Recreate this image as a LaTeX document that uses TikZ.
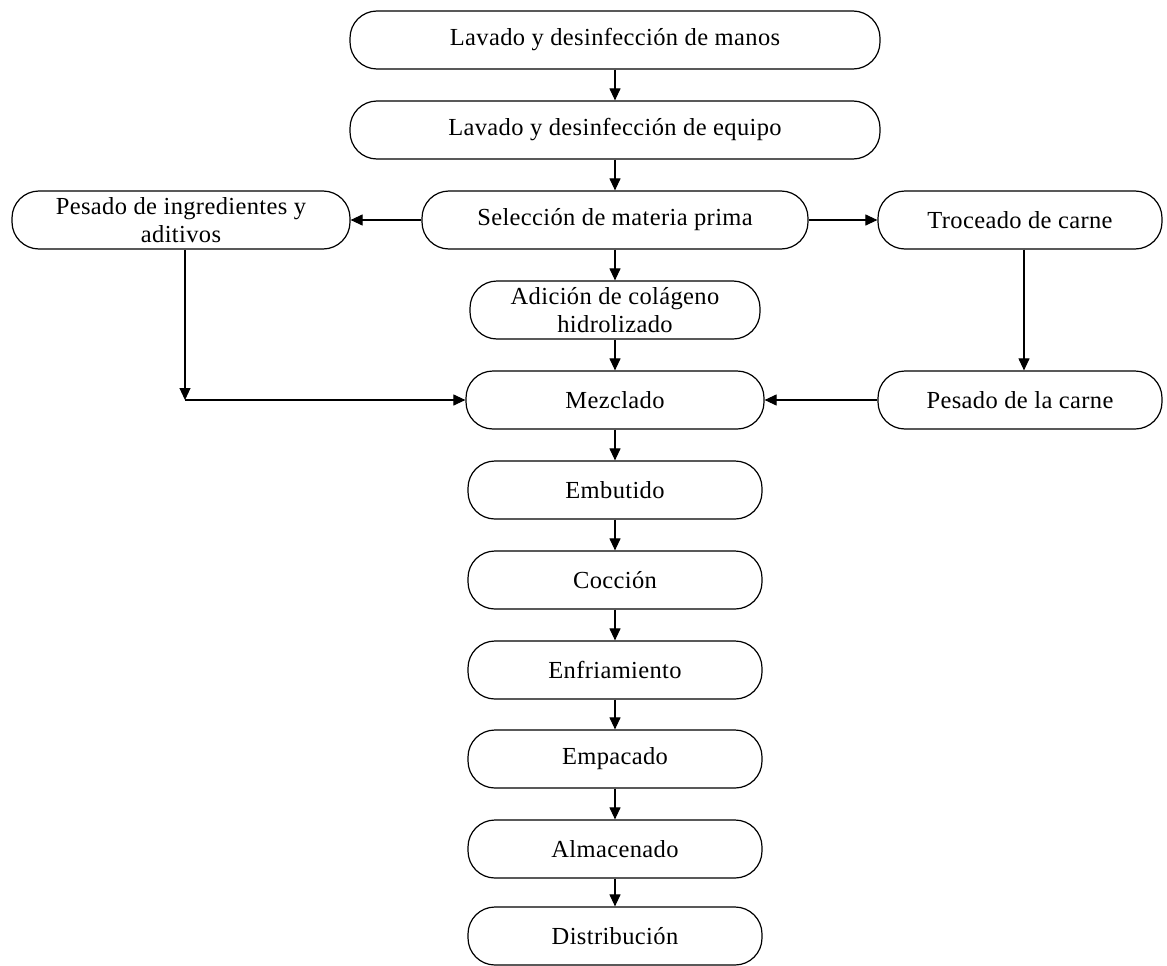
\documentclass[tikz,border=0pt]{standalone}
\usepackage{fontspec}
\setmainfont{Liberation Serif}[LetterSpace=1.5]
\usepackage{tikz}
\usetikzlibrary{shapes,arrows.meta,positioning,calc}

\begin{document}
\begin{tikzpicture}[x=1pt, y=-1pt,
  paso/.style={draw, line width=1.2pt, rounded corners=27pt, minimum height=58pt,
    inner sep=1pt, align=center, font=\fontsize{24.5}{28}\selectfont},
  flecha/.style={-{Triangle[length=12pt,width=11pt]}, line width=1.1pt}]
  \useasboundingbox (0,0) rectangle (1167,966);

  % columna central
  \node[paso, minimum width=530pt] (manos) at (615,40) {Lavado y desinfección de manos};
  \node[paso, minimum width=530pt] (equipo) at (615,130) {Lavado y desinfección de equipo};
  \node[paso, minimum width=386pt] (seleccion) at (615,220) {Selección de materia prima};
  \node[paso, minimum width=290pt] (colageno) at (615,310) {Adición de colágeno\\hidrolizado};
  \node[paso, minimum width=298pt] (mezclado) at (615,400) {Mezclado};
  \node[paso, minimum width=294pt] (embutido) at (615,490) {Embutido};
  \node[paso, minimum width=294pt] (coccion) at (615,580) {Cocción};
  \node[paso, minimum width=294pt] (enfriamiento) at (615,670) {Enfriamiento};
  \node[paso, minimum width=294pt] (empacado) at (615,759) {Empacado};
  \node[paso, minimum width=294pt] (almacenado) at (615,849) {Almacenado};
  \node[paso, minimum width=294pt] (distribucion) at (615,936) {Distribución};

  % ramas laterales
  \node[paso, minimum width=338pt] (ingredientes) at (181,220) {Pesado de ingredientes y\\aditivos};
  \node[paso, minimum width=284pt] (troceado) at (1020,220) {Troceado de carne};
  \node[paso, minimum width=284pt] (pesocarne) at (1020,400) {Pesado de la carne};

  \draw[flecha] (manos) -- (equipo);
  \draw[flecha] (equipo) -- (seleccion);
  \draw[flecha] (seleccion) -- (colageno);
  \draw[flecha] (colageno) -- (mezclado);
  \draw[flecha] (mezclado) -- (embutido);
  \draw[flecha] (embutido) -- (coccion);
  \draw[flecha] (coccion) -- (enfriamiento);
  \draw[flecha] (enfriamiento) -- (empacado);
  \draw[flecha] (empacado) -- (almacenado);
  \draw[flecha] (almacenado) -- (distribucion);

  \draw[flecha] (seleccion) -- (ingredientes);
  \draw[flecha] (seleccion) -- (troceado);
  \coordinate (esquina) at ($(ingredientes.south)+(4,0)$);
  \coordinate (codo) at (esquina |- mezclado.west);
  \draw[flecha] (esquina) -- (codo);
  \draw[flecha] (codo) -- (mezclado.west);
  \draw[flecha] (troceado.south) ++(4,0) coordinate (bajada) -- (bajada |- pesocarne.north);
  \draw[flecha] (pesocarne) -- (mezclado);
\end{tikzpicture}
\end{document}
